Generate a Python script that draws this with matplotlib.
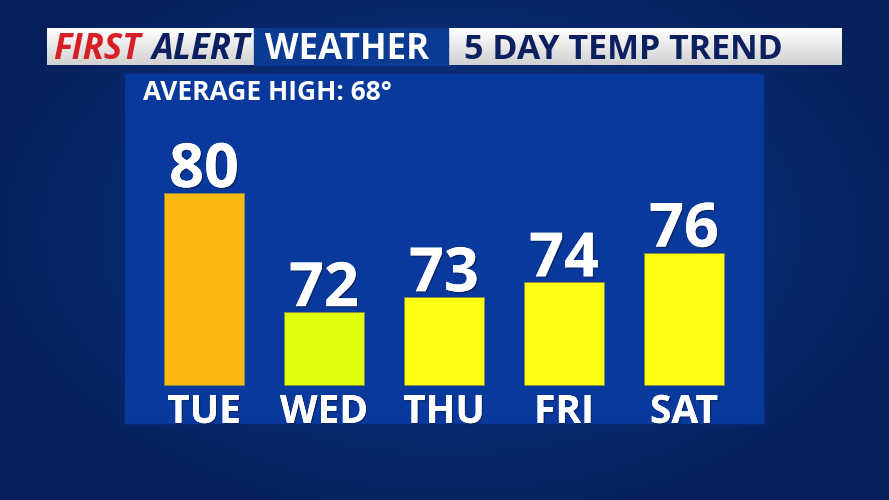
import numpy as np
import matplotlib
matplotlib.use("Agg")
import matplotlib.pyplot as plt
from matplotlib.patches import Rectangle
import matplotlib.patheffects as pe
import matplotlib.transforms as mtrans

# data
days = ["TUE", "WED", "THU", "FRI", "SAT"]
temps = [80, 72, 73, 74, 76]
bar_colors = ["#fdb912", "#dfff0f", "#ffff14", "#ffff14", "#ffff14"]
avg_high = 68
base = 67.1

plt.rcParams["font.family"] = ["Open Sans", "DejaVu Sans"]

W, H = 889, 500
fig = plt.figure(figsize=(W / 100, H / 100), dpi=100)

# background with soft radial glow
bg = fig.add_axes([0, 0, 1, 1])
yy, xx = np.mgrid[0:H, 0:W]
r = np.sqrt(((xx - 450) / 520.0) ** 2 + ((yy - 230) / 330.0) ** 2)
r = np.clip(r, 0, 1)
c_in = np.array([0x0f, 0x3a, 0x8c]) / 255
c_out = np.array([0x06, 0x1f, 0x5a]) / 255
img = c_in[None, None, :] * (1 - r[..., None]) + c_out[None, None, :] * r[..., None]
bg.imshow(img, extent=[0, W, H, 0], aspect="auto")
bg.set_xlim(0, W)
bg.set_ylim(H, 0)
bg.axis("off")

# header bar
grad = np.linspace(1.0, 0.82, 40)[:, None, None] * np.ones((1, 2, 3))
bg.imshow(grad, extent=[47, 254, 65, 28], aspect="auto", zorder=2)
bg.imshow(grad, extent=[448, 842, 65, 28], aspect="auto", zorder=2)
bg.add_patch(Rectangle((254, 28), 194, 37, color="#0b3a93", zorder=2))
bg.set_xlim(0, W)
bg.set_ylim(H, 0)

bg.text(53, 59, "FIRST", color="#d61f26", fontsize=25, fontweight="bold",
        style="italic", va="baseline", ha="left", zorder=3)
bg.text(249, 59, "ALERT", color="#0c1f5e", fontsize=25, fontweight="bold",
        style="italic", va="baseline", ha="right", zorder=3)
bg.text(347, 59, "WEATHER", color="white", fontsize=25, fontweight="bold",
        va="baseline", ha="center", zorder=3)
bg.text(623, 59, "5 DAY TEMP TREND", color="#0c1f5e", fontsize=24.5,
        fontweight="bold", va="baseline", ha="center", zorder=3)

# chart panel
ax = fig.add_axes([124 / W, 75 / H, 641 / W, 352 / H])
ax.set_facecolor("#0a399e")
x = np.arange(len(days))
heights = [t - base for t in temps]
ax.bar(x, heights, bottom=base, width=0.667, color=bar_colors,
       edgecolor="#8a8a40", linewidth=0.6, zorder=2)
ax.set_xlim(-0.667, 4.675)
ax.set_ylim(64.41, 88.07)

shadow = [pe.withSimplePatchShadow(offset=(1, -1), shadow_rgbFace="#0a1a40", alpha=0.6), pe.Normal()]
trans = mtrans.blended_transform_factory(ax.transData, ax.transAxes)
for i, t in enumerate(temps):
    ax.annotate(str(t), (x[i], t), xytext=(0, 4.3), textcoords="offset points",
                ha="center", va="baseline", color="white", fontsize=44,
                fontweight="bold", path_effects=shadow, zorder=3)
    ax.text(x[i], 0.006, days[i], transform=trans, ha="center", va="baseline",
            color="white", fontsize=28, fontweight="bold", path_effects=shadow, zorder=3)

ax.text(0.029, 0.923, f"AVERAGE HIGH: {avg_high}°", transform=ax.transAxes,
        ha="left", va="baseline", color="white", fontsize=19, fontweight="bold", zorder=3)

ax.set_xticks([])
ax.set_yticks([])
for s in ax.spines.values():
    s.set_color("#08286e")
    s.set_linewidth(1.5)

fig.savefig("out.png", dpi=100)
